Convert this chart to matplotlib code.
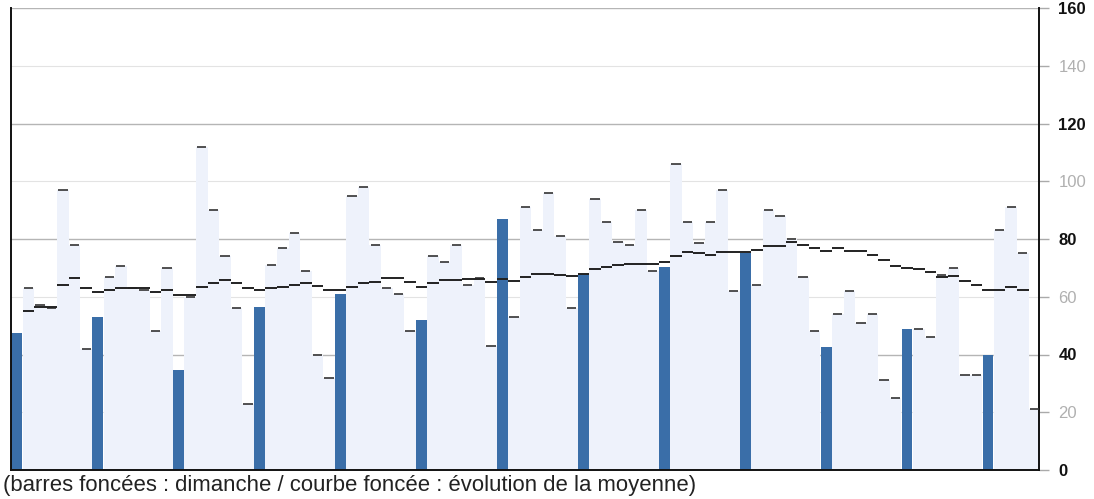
import numpy as np
import matplotlib
matplotlib.use("Agg")
import matplotlib.pyplot as plt

plt.rcParams["font.family"] = ["Liberation Sans", "DejaVu Sans"]

# daily values (89 days, day 0 is a Sunday)
values = [47.5, 63, 57, 56, 97, 78, 42, 53, 67, 70.5, 63, 62.5, 48, 70, 34.6,
          60, 112, 90, 74, 56, 23, 56.3, 71, 77, 82, 69, 40, 32, 61, 95,
          98, 78, 63, 61, 48, 52, 74, 72, 78, 64, 66.5, 43, 87, 53, 91,
          83, 96, 81, 56, 68, 94, 86, 79, 78, 90, 69, 70.4, 106, 86, 78.5,
          86, 97, 62, 75, 64, 90, 88, 80, 67, 48, 42.7, 54, 62, 51, 54,
          31, 25, 49, 49, 46, 67.5, 70, 33, 33, 40, 83, 91, 75, 21]

# moving average as drawn (from day 1 to day 87)
average = [55.2, 56.5, 56.3, 64, 66.4, 63, 61.6, 62.4, 63.2, 63, 63, 61.7, 62.3,
           60.7, 60.6, 63.3, 64.8, 65.8, 64.8, 63.1, 62.5, 63.1, 63.5, 64, 64.6,
           63.6, 62.4, 62.4, 63.5, 64.6, 65.2, 66.5, 66.5, 65, 63.5, 64.8, 65.8,
           65.8, 66, 66.2, 65, 66, 65.5, 67, 67.9, 67.9, 67.4, 67.2, 67.8, 69.5,
           70.4, 71.1, 71.2, 71.2, 71.2, 71.9, 74, 75.4, 75.3, 74.4, 75.4, 75.4,
           75.4, 76.1, 77.6, 77.6, 79, 77.8, 76.8, 76, 76.8, 76, 75.8, 74.3,
           72.7, 70.6, 69.8, 69.7, 68.7, 67, 67.2, 65.6, 64, 62.3, 62.3, 63.3, 62.3]

major_ticks = [0, 40, 80, 120, 160]
minor_ticks = [20, 60, 100, 140]

days = np.arange(len(values))
vals = np.array(values)
sunday = days % 7 == 0
avg_days = days[1:len(average) + 1]

fig = plt.figure(figsize=(10.94, 4.99), dpi=100)
ax = fig.add_axes([11 / 1094, 29 / 499, 1028 / 1094, 462 / 499])

for y in minor_ticks:
    ax.axhline(y, color="#e3e3e3", lw=0.8, zorder=0)
for y in major_ticks[1:]:
    ax.axhline(y, color="#b5b5b5", lw=1.0, zorder=0)

ax.bar(days[~sunday], vals[~sunday], width=1.0, color="#eef2fb", zorder=1)
ax.bar(days[sunday], vals[sunday], width=0.92, color="#3a6ea8", zorder=2)
ax.hlines(vals[~sunday], days[~sunday] - 0.4, days[~sunday] + 0.4,
          color="#333333", lw=1.2, zorder=3)

# average: one short flat piece per day
ax.hlines(average, avg_days - 0.5, avg_days + 0.5, color="#222222", lw=1.4, zorder=4)

ax.set_xlim(-0.5, 88.4)
ax.set_ylim(0, 160)
ax.set_xticks([])

ax.yaxis.tick_right()
ax.set_yticks(major_ticks + minor_ticks)
ax.set_yticklabels([str(t) for t in major_ticks + minor_ticks])
ax.tick_params(axis="y", length=7, width=1, color="#aaaaaa", pad=7, labelsize=12)
for lab, t in zip(ax.get_yticklabels(), major_ticks + minor_ticks):
    if t in major_ticks:
        lab.set_color("#111111")
        lab.set_fontweight("bold")
    else:
        lab.set_color("#b0b0b0")

ax.spines["top"].set_visible(False)
for side in ("left", "bottom", "right"):
    ax.spines[side].set_color("#111111")
    ax.spines[side].set_linewidth(1.4)

fig.text(0.003, 14 / 499, "(barres foncées : dimanche / courbe foncée : évolution de la moyenne)",
         fontsize=15.9, color="#222222", va="center", ha="left")

fig.savefig("out.png", dpi=100)
